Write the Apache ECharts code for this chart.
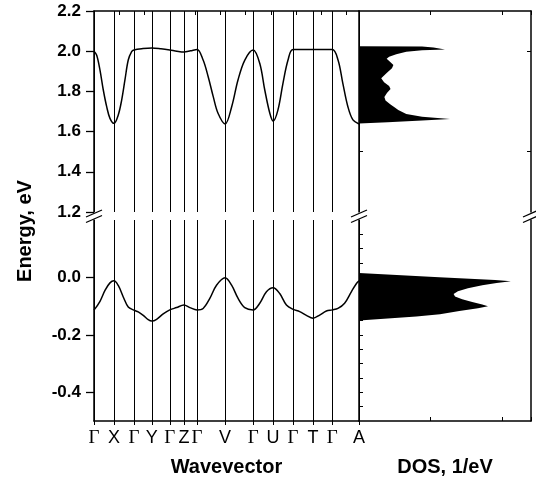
<!DOCTYPE html>
<html><head><meta charset="utf-8">
<script src="https://cdn.jsdelivr.net/npm/echarts@6/dist/echarts.min.js"></script>
<style>html,body{margin:0;padding:0;background:#fff}#c{width:536px;height:482px}</style>
</head><body><div id="c"></div>
<script>
// k-path positions of the high-symmetry points and their labels
const kTicks = [0, 0.79, 1.58, 2.29, 3.00, 3.56, 4.08, 5.19, 6.30, 7.09, 7.88, 8.67, 9.43, 10.49];
const kLabels = ['Γ','X','Γ','Y','Γ','Z','Γ','V','Γ','U','Γ','T','Γ','A'];

// conduction band [k, E]
const condBand = [
 [0,2.0],[0.107,1.98],[0.237,1.906],[0.368,1.807],[0.502,1.724],[0.632,1.666],[0.79,1.641],
 [0.96,1.683],[1.095,1.757],[1.225,1.857],[1.356,1.956],[1.49,1.998],[1.58,2.006],
 [1.94,2.013],[2.29,2.016],[2.65,2.012],[3.00,2.006],[3.28,2.0],[3.56,1.996],[3.82,2.002],[4.08,2.009],
 [4.32,1.956],[4.52,1.873],[4.72,1.774],[4.91,1.691],[5.19,1.638],
 [5.45,1.724],[5.70,1.857],[5.97,1.956],[6.30,2.006],
 [6.56,1.94],[6.76,1.807],[6.96,1.691],[7.09,1.652],[7.28,1.707],[7.48,1.84],[7.68,1.956],[7.88,2.008],
 [8.67,2.008],[9.43,2.008],
 [9.66,1.956],[9.85,1.84],[10.05,1.724],[10.25,1.658],[10.49,1.638]
];
// valence band [k, E]
const valBand = [
 [0,-0.114],[0.237,-0.083],[0.435,-0.045],[0.632,-0.019],[0.79,-0.012],[0.96,-0.028],[1.158,-0.068],
 [1.356,-0.103],[1.58,-0.114],[1.751,-0.12],[1.949,-0.132],[2.146,-0.147],[2.29,-0.152],[2.478,-0.146],
 [2.739,-0.127],[3.00,-0.113],[3.269,-0.105],[3.56,-0.096],[3.794,-0.105],[4.08,-0.113],[4.32,-0.108],
 [4.585,-0.073],[4.85,-0.027],[5.19,-0.001],[5.447,-0.027],[5.704,-0.073],[5.968,-0.105],[6.30,-0.113],
 [6.561,-0.09],[6.826,-0.05],[7.09,-0.036],[7.352,-0.056],[7.617,-0.096],[7.88,-0.111],[8.142,-0.119],
 [8.407,-0.132],[8.67,-0.142],[8.933,-0.131],[9.198,-0.117],[9.43,-0.113],[9.656,-0.108],[9.92,-0.09],
 [10.186,-0.05],[10.39,-0.021],[10.49,-0.012]
];
// density of states outlines [DOS, E]
const dosCond = [
 [0,2.025],[4.4,2.024],[5.2,2.019],[6.0,2.009],[4.4,2.005],[3.3,1.997],[2.6,1.985],[2.1,1.972],[1.93,1.962],
 [2.2,1.945],[2.4,1.931],[2.3,1.915],[1.95,1.893],[1.55,1.865],[1.75,1.845],[2.1,1.827],[2.2,1.812],
 [1.95,1.792],[1.77,1.772],[1.85,1.755],[2.2,1.735],[2.5,1.72],[2.74,1.707],[3.3,1.688],[4.4,1.674],
 [6.35,1.663],[4.4,1.655],[2.0,1.647],[0,1.640]
];
const dosVal = [
 [0,0.015],[5.6,0.001],[9.5,-0.009],[10.6,-0.013],[9.6,-0.019],[8.6,-0.027],[7.6,-0.038],[6.9,-0.048],
 [6.6,-0.058],[6.7,-0.066],[7.2,-0.076],[7.9,-0.086],[8.6,-0.094],[9.0,-0.100],[8.3,-0.107],[7.0,-0.117],
 [5.65,-0.128],[4,-0.136],[2,-0.143],[0,-0.150]
];
// tick values
const topTicks = [1.2,1.4,1.6,1.8,2.0,2.2];
const botTicks = [-0.4,-0.2,0.0];
const dosTopTicks = [1.5,2.0];
const dosBotTicks = [-0.45,-0.4,-0.35,-0.3,-0.25,-0.2,-0.15,-0.1,-0.05,0,0.05,0.1,0.15];

const FONT = "'Liberation Sans', Arial, sans-serif";
const chart = echarts.init(document.getElementById('c'));
const AL = {show:true, onZero:false, lineStyle:{color:'#000', width:1.5}};
const noLab = {show:false};
const noSplit = {show:false};
const yLab = {show:true, color:'#000', fontFamily:FONT, fontWeight:'bold', fontSize:17, margin:13,
  formatter: v => v.toFixed(1)};

function polyRender(pts){
  return function(params, api){
    if (params.dataIndex !== 0) return null;
    return {type:'polygon', shape:{points: pts.map(p => api.coord(p))}, style:{fill:'#000'}};
  };
}
const kLines = {silent:true, symbol:['none','none'], label:{show:false}, animation:false,
  lineStyle:{color:'#000', width:1, type:'solid'}, emphasis:{disabled:true},
  data: kTicks.map(k => ({xAxis:k}))};

function breakMarks(){
  const out = [];
  [94, 359, 531].forEach(cx => {
    [213.5, 219].forEach(cy => {
      out.push({type:'line', shape:{x1:cx-8, y1:cy+3.5, x2:cx+8, y2:cy-3.5}, style:{stroke:'#000', lineWidth:1.3}});
    });
  });
  return out;
}

chart.setOption({
  animation:false,
  backgroundColor:'#fff',
  grid:[
    {left:94, top:11, width:265, height:201},
    {left:94, top:220, width:265, height:201},
    {left:359, top:11, width:172, height:201},
    {left:359, top:220, width:172, height:201}
  ],
  xAxis:[
    {gridIndex:0, type:'value', min:0, max:kTicks[kTicks.length-1], position:'top', interval:1,
     axisLine:AL, axisTick:{show:true, inside:true, length:4, lineStyle:{color:'#000'}}, axisLabel:noLab, splitLine:noSplit},
    {gridIndex:1, type:'value', min:0, max:kTicks[kTicks.length-1], position:'bottom',
     axisLine:AL, axisTick:{show:true, length:4, customValues:kTicks, lineStyle:{color:'#000'}},
     axisLabel:{show:true, customValues:kTicks, margin:8,
       formatter: v => { const i = kTicks.findIndex(k => Math.abs(k-v) < 1e-6); const t = kLabels[i];
         return t === 'Γ' ? '{g|Γ}' : '{s|' + t + '}'; },
       rich:{g:{fontFamily:"'Liberation Serif', serif", fontSize:19, color:'#000'},
             s:{fontFamily:FONT, fontSize:18, color:'#000'}}},
     splitLine:noSplit,
     name:'Wavevector', nameLocation:'middle', nameGap:36,
     nameTextStyle:{fontFamily:FONT, fontWeight:'bold', fontSize:20, color:'#000'}},
    {gridIndex:2, type:'value', min:0, max:12, interval:5, position:'top',
     axisLine:AL, axisTick:{show:true, inside:true, length:4, lineStyle:{color:'#000'}}, axisLabel:noLab, splitLine:noSplit},
    {gridIndex:3, type:'value', min:0, max:12, interval:5, position:'bottom',
     axisLine:AL, axisTick:{show:true, inside:true, length:4, lineStyle:{color:'#000'}}, axisLabel:noLab, splitLine:noSplit,
     name:'DOS, 1/eV', nameLocation:'middle', nameGap:36,
     nameTextStyle:{fontFamily:FONT, fontWeight:'bold', fontSize:20, color:'#000'}}
  ],
  yAxis:[
    {gridIndex:0, type:'value', min:1.2, max:2.2, position:'left',
     axisLine:AL, axisTick:{show:true, length:8, customValues:topTicks, lineStyle:{color:'#000', width:1.3}},
     axisLabel:Object.assign({customValues:topTicks}, yLab), splitLine:noSplit},
    {gridIndex:1, type:'value', min:-0.5, max:0.2, position:'left',
     axisLine:AL, axisTick:{show:true, length:8, customValues:botTicks, lineStyle:{color:'#000', width:1.3}},
     axisLabel:Object.assign({customValues:botTicks}, yLab), splitLine:noSplit},
    {gridIndex:2, type:'value', min:1.2, max:2.2, position:'left',
     axisLine:AL, axisTick:{show:true, inside:true, length:4, customValues:dosTopTicks, lineStyle:{color:'#000'}},
     axisLabel:noLab, splitLine:noSplit},
    {gridIndex:3, type:'value', min:-0.5, max:0.2, position:'left',
     axisLine:AL, axisTick:{show:true, inside:true, length:4, customValues:dosBotTicks, lineStyle:{color:'#000'}},
     axisLabel:noLab, splitLine:noSplit},
    {gridIndex:2, type:'value', min:1.2, max:2.2, position:'right',
     axisLine:AL, axisTick:{show:true, inside:true, length:4, customValues:dosTopTicks, lineStyle:{color:'#000'}},
     axisLabel:noLab, splitLine:noSplit},
    {gridIndex:3, type:'value', min:-0.5, max:0.2, position:'right',
     axisLine:AL, axisTick:{show:false}, axisLabel:noLab, splitLine:noSplit}
  ],
  series:[
    {type:'line', xAxisIndex:0, yAxisIndex:0, data:condBand, smooth:0.35, symbol:'none',
     lineStyle:{color:'#000', width:1.5}, markLine:kLines, z:3},
    {type:'line', xAxisIndex:1, yAxisIndex:1, data:valBand, smooth:0.35, symbol:'none',
     lineStyle:{color:'#000', width:1.5}, markLine:kLines, z:3},
    {type:'custom', xAxisIndex:2, yAxisIndex:2, data:dosCond, encode:{x:0, y:1}, renderItem:polyRender(dosCond), clip:true},
    {type:'custom', xAxisIndex:3, yAxisIndex:3, data:dosVal, encode:{x:0, y:1}, renderItem:polyRender(dosVal), clip:true}
  ],
  graphic: breakMarks().concat([
    {type:'text', x:25, y:231, rotation:Math.PI/2,
     style:{text:'Energy, eV', fontFamily:FONT, fontWeight:'bold', fontSize:20, fill:'#000', align:'center', verticalAlign:'middle'}}
  ])
});
</script></body></html>
